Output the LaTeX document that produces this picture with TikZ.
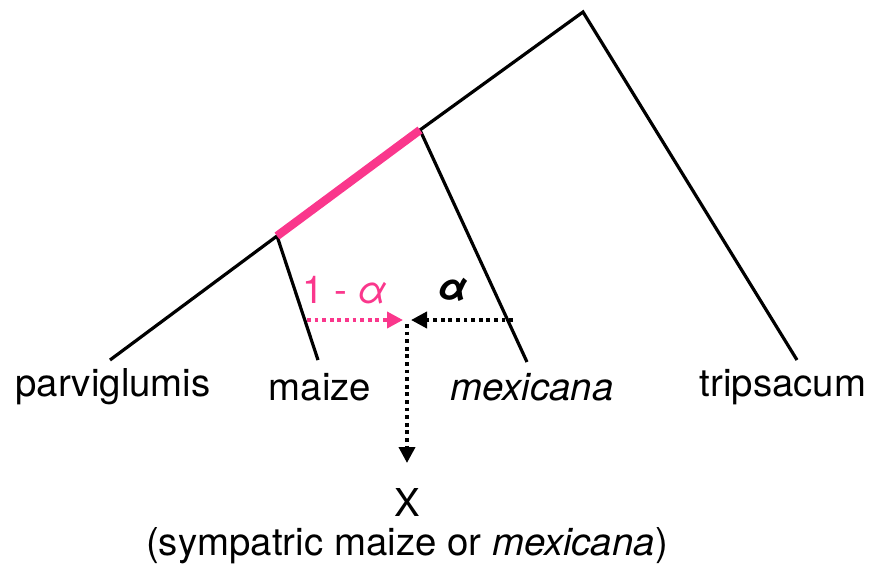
\documentclass[tikz,border=0pt]{standalone}
\usepackage{fontspec}
\setmainfont{TeX Gyre Heros}
\usepackage{xcolor}
\usepackage{tikz}
\usetikzlibrary{positioning,arrows.meta}
\definecolor{flowpink}{RGB}{250,55,140}
\definecolor{treeblack}{RGB}{0,0,0}
\tikzset{
    branch/.style={draw=treeblack, line width=1.6pt},
    pinkbranch/.style={draw=flowpink, line width=4.2pt},
    tiplabel/.style={font=\fontsize{19.2}{23}\selectfont, inner sep=0pt},
    flow/.style={-{Triangle[length=8pt,width=8pt]}, line width=1.9pt, dash pattern=on 1.9pt off 1.9pt},
    pinkflow/.style={flow, draw=flowpink, color=flowpink},
    blackflow/.style={flow, draw=treeblack}
}

\begin{document}
\begin{tikzpicture}[x=0.5pt,y=-0.5pt]
\useasboundingbox (0,0) rectangle (883,573);
% tree points
\coordinate (root) at (583,12);
\coordinate (ancmex) at (420,130);
\coordinate (ancmaize) at (277,236);
\coordinate (parv) at (110,360);
\coordinate (maize) at (318,360);
\coordinate (mex) at (527,362);
\coordinate (trip) at (797,360);
% branches
\draw[branch] (parv) -- (ancmaize) -- (ancmex) -- (root) -- (trip);
\draw[branch] (ancmaize) -- (maize);
\draw[branch] (ancmex) -- (mex);
\draw[pinkbranch] (ancmaize) -- (ancmex);
% tip labels
\node[tiplabel] (parvlab) at (113,387) {parviglumis};
\node[tiplabel] (maizelab) at (320,387) {maize};
\node[tiplabel] (mexlab) at (532,387) {\itshape mexicana};
\node[tiplabel] (triplab) at (783,387) {tripsacum};
% admixture
\coordinate (mix) at (407,320);
\coordinate (fromA) at (307,320);
\coordinate (fromB) at (513,320);
\coordinate (mixdown) at (407,324);
\coordinate (xend) at (407,463);
\draw[pinkflow] (fromA) -- ([xshift=-2]mix);
\draw[blackflow] (fromB) -- ([xshift=2]mix);
\draw[blackflow] (mixdown) -- (xend);
\node[tiplabel, color=flowpink] (alphaA) at (345,290) {1 - \textit{α}};
\node[tiplabel] (alphaB) at (453,290) {\textbf{\textit{α}}};
\node[tiplabel] (xlab) at (407,502) {X};
\node[tiplabel] (xnote) at (407,546) {(sympatric maize or \textit{mexicana})};
\end{tikzpicture}
\end{document}
